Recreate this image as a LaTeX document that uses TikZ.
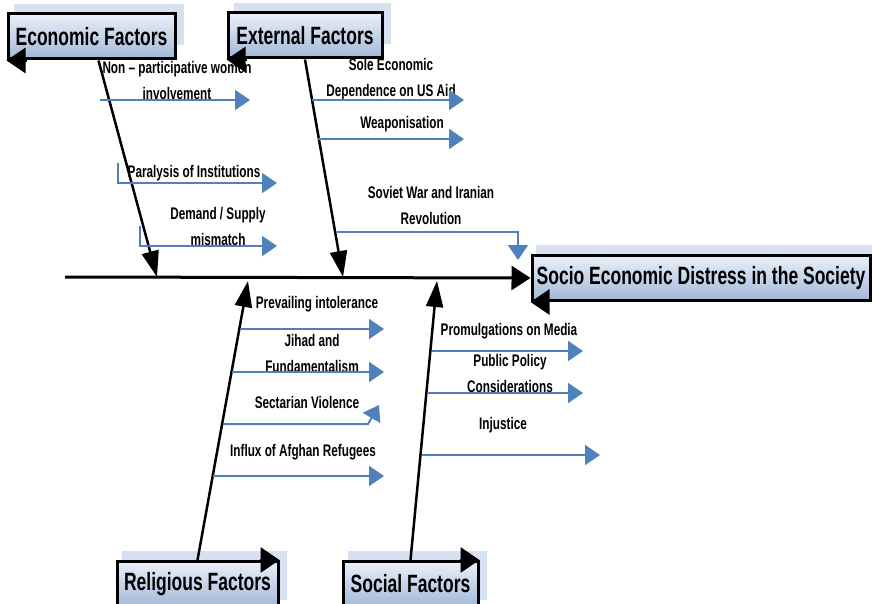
\documentclass[tikz,border=0pt]{standalone}
\usepackage{fontspec}
\setmainfont{Liberation Sans}[FakeStretch=0.7]
\usetikzlibrary{arrows.meta, calc, backgrounds}
\definecolor{causeblue}{RGB}{79,129,189}
\definecolor{boxlight}{RGB}{234,240,249}
\definecolor{boxdark}{RGB}{162,184,215}
\definecolor{boxshadow}{RGB}{214,224,240}

\begin{document}
\begin{tikzpicture}[x=1pt, y=-1pt,
        factor/.style={rectangle, draw, line width=3pt, top color=boxlight, bottom color=boxdark, minimum height=45pt, inner sep=0pt, font=\fontsize{25}{30}\selectfont\bfseries},
        shadowbox/.style={fill=boxshadow},
        cause/.style={align=center, inner sep=0pt, font=\fontsize{16.8}{26}\selectfont\bfseries},
        spine/.style={draw, line width=3pt, -{Triangle[length=19pt, width=24pt]}},
        bone/.style={draw, line width=2.5pt, -{Triangle[length=26pt, width=17pt]}},
        subcause/.style={draw, causeblue, line width=2pt, -{Triangle[length=15pt, width=20pt]}},
        cornertip/.style={draw, line width=3pt, -{Triangle[length=19pt, width=25pt]}}
        ]
        \useasboundingbox (0,0) rectangle (872,604);

        % Factor boxes
        \node (eco) [factor, minimum width=167pt] at (91.5,36.5) {Economic Factors};
        \node (ext) [factor, minimum width=154pt] at (305,35.5) {External Factors};
        \node (effect) [factor, minimum width=338pt] at (701,278) {Socio Economic Distress in the Society};
        \node (rel) [factor, minimum width=161pt] at (197.5,584) {Religious Factors};
        \node (soc) [factor, minimum width=135pt] at (410.5,584) {Social Factors};

        % Shadows behind the boxes
        \begin{scope}[on background layer]
        \fill[shadowbox] ($(eco.north west)+(7,-8)$) rectangle ($(eco.south east)+(7,-15)$);
        \fill[shadowbox] ($(ext.north west)+(7,-8)$) rectangle ($(ext.south east)+(7,-15)$);
        \fill[shadowbox] ($(effect.north west)+(5,-9)$) rectangle ($(effect.south east)+(7,-15)$);
        \fill[shadowbox] ($(rel.north west)+(6,-9)$) rectangle ($(rel.south east)+(7,-8)$);
        \fill[shadowbox] ($(soc.north west)+(6,-9)$) rectangle ($(soc.south east)+(7,-8)$);
        \end{scope}

        % Spine and bones
        \coordinate (tail) at (65,277);
        \coordinate (ecohit) at (157,277);
        \coordinate (exthit) at (343,277);
        \coordinate (relhit) at (248,281);
        \coordinate (sochit) at (437,281);
        \draw [spine] (tail) -- (effect.west);
        \draw [bone] ([xshift=7pt]eco.south) -- (ecohit);
        \draw [bone] (ext.south) -- (exthit);
        \draw [bone] (rel.north) -- (relhit);
        \draw [bone] (soc.north) -- (sochit);

        % Arrow tips on the box corners
        \draw [cornertip] ([xshift=20pt]eco.south west) -- (eco.south west);
        \draw [cornertip] ([xshift=20pt]ext.south west) -- (ext.south west);
        \draw [cornertip] ([xshift=17pt]effect.south west) -- (effect.south west);
        \draw [cornertip] ([xshift=-20pt]rel.north east) -- (rel.north east);
        \draw [cornertip] ([xshift=-20pt]soc.north east) -- (soc.north east);

        % Causes
        \node (women) [cause] at (177,80) {Non -- participative women\\involvement};
        \node (paralysis) [cause] at (194,173) {Paralysis of Institutions};
        \node (demand) [cause] at (218,226) {Demand / Supply\\mismatch};
        \node (aid) [cause] at (391,79) {Sole Economic\\Dependence on US Aid};
        \node (weapon) [cause] at (402,124) {Weaponisation};
        \node (soviet) [cause] at (431,205) {Soviet War and Iranian\\Revolution};
        \node (intol) [cause] at (317,304) {Prevailing intolerance};
        \node (jihad) [cause] at (312,353) {Jihad and\\Fundamentalism};
        \node (sect) [cause] at (307,402) {Sectarian Violence};
        \node (refugee) [cause] at (303,452) {Influx of Afghan Refugees};
        \node (media) [cause] at (509,331) {Promulgations on Media};
        \node (policy) [cause] at (510,373) {Public Policy\\Considerations};
        \node (injust) [cause] at (503,425) {Injustice};

        % Cause arrows
        \coordinate (w1) at (100,100);  \coordinate (w2) at (250,100);
        \coordinate (p1) at (118,163);  \coordinate (p2) at (277,183);
        \coordinate (d1) at (140,226);  \coordinate (d2) at (277,246);
        \coordinate (a1) at (312,100);  \coordinate (a2) at (464,100);
        \coordinate (g1) at (318,139);  \coordinate (g2) at (464,139);
        \coordinate (s1) at (337,232);  \coordinate (s2) at (518,260);
        \coordinate (i1) at (240,329);  \coordinate (i2) at (384,329);
        \coordinate (j1) at (232,372);  \coordinate (j2) at (384,372);
        \coordinate (v1) at (223,424);  \coordinate (v2) at (368,424);  \coordinate (v3) at (379,405);
        \coordinate (r1) at (213,476);  \coordinate (r2) at (384,476);
        \coordinate (m1) at (432,351);  \coordinate (m2) at (583,351);
        \coordinate (c1) at (427,393);  \coordinate (c2) at (583,393);
        \coordinate (n1) at (422,455);  \coordinate (n2) at (600,455);
        \draw [subcause] (w1) -- (w2);
        \draw [subcause] (p1) |- (p2);
        \draw [subcause] (d1) |- (d2);
        \draw [subcause] (a1) -- (a2);
        \draw [subcause] (g1) -- (g2);
        \draw [subcause] (s1) -| (s2);
        \draw [subcause] (i1) -- (i2);
        \draw [subcause] (j1) -- (j2);
        \draw [subcause] (v1) -- (v2) -- (v3);
        \draw [subcause] (r1) -- (r2);
        \draw [subcause] (m1) -- (m2);
        \draw [subcause] (c1) -- (c2);
        \draw [subcause] (n1) -- (n2);

    \end{tikzpicture}
\end{document}
